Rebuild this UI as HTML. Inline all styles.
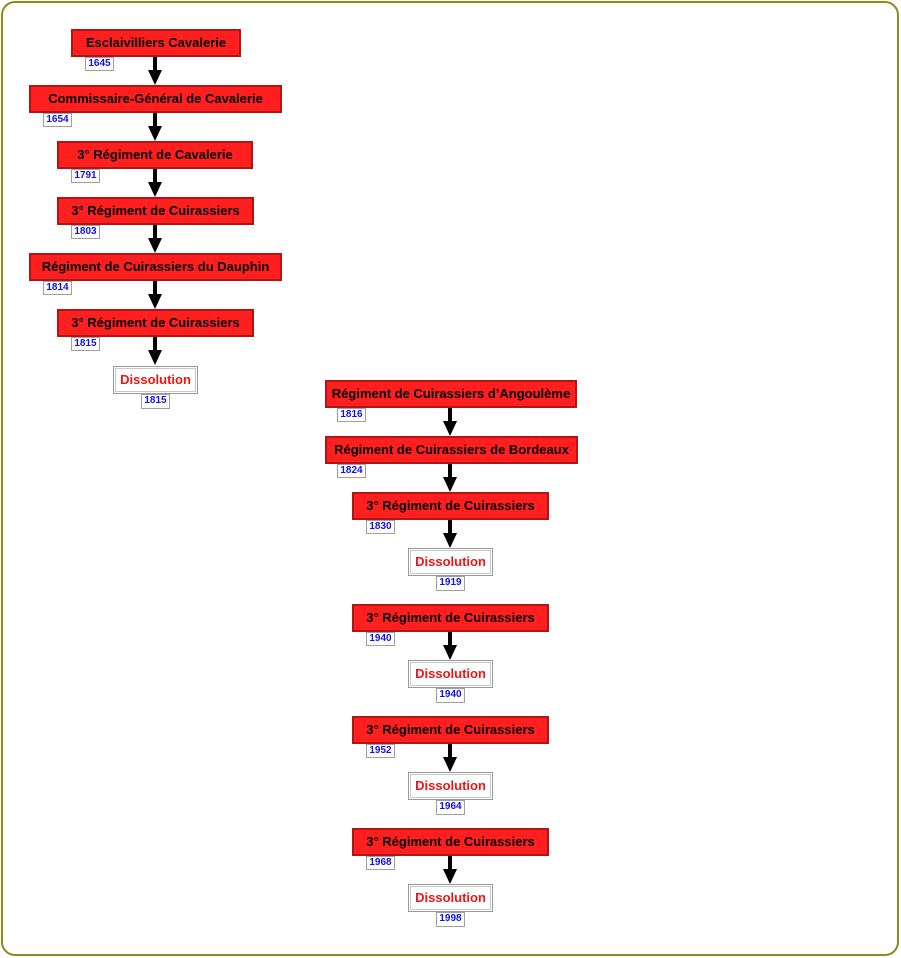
<!DOCTYPE html>
<html>
<head>
<meta charset="utf-8">
<style>
html,body{margin:0;padding:0;background:#fff;}
body{width:901px;height:958px;position:relative;overflow:hidden;font-family:"Liberation Sans",Arial,sans-serif;}
.frame{position:absolute;left:1px;top:1px;width:898px;height:955px;box-sizing:border-box;border:2px solid #8b8b1e;border-radius:14px;}
.b{position:absolute;height:28px;box-sizing:border-box;background:#ff1f1f;border:2px solid #b01616;color:#000;font-weight:bold;font-size:13px;line-height:24px;text-align:center;white-space:nowrap;}
.d{position:absolute;height:28px;box-sizing:border-box;background:#fff;border:1px solid #9a9a9a;box-shadow:inset 0 0 0 1px #fff,inset 0 0 0 2px #c8c8c8;color:#f01414;font-weight:bold;font-size:13px;line-height:26px;text-align:center;white-space:nowrap;}
.y{position:absolute;width:29px;height:14px;box-sizing:border-box;background:#fff;border:1px solid #a0a0a0;color:#1010ee;font-weight:bold;font-size:10px;line-height:12px;text-align:center;}
svg{position:absolute;left:0;top:0;}
</style>
</head>
<body>
<div class="frame"></div>

<!-- Left column -->
<div class="b" style="left:71px;top:29px;width:170px;">Esclaivilliers Cavalerie</div>
<div class="y" style="left:85px;top:57px;">1645</div>

<div class="b" style="left:29px;top:85px;width:253px;">Commissaire-Général de Cavalerie</div>
<div class="y" style="left:43px;top:113px;">1654</div>

<div class="b" style="left:57px;top:141px;width:196px;">3° Régiment de Cavalerie</div>
<div class="y" style="left:71px;top:169px;">1791</div>

<div class="b" style="left:57px;top:197px;width:197px;">3° Régiment de Cuirassiers</div>
<div class="y" style="left:71px;top:225px;">1803</div>

<div class="b" style="left:29px;top:253px;width:253px;">Régiment de Cuirassiers du Dauphin</div>
<div class="y" style="left:43px;top:281px;">1814</div>

<div class="b" style="left:57px;top:309px;width:197px;">3° Régiment de Cuirassiers</div>
<div class="y" style="left:71px;top:337px;">1815</div>

<div class="d" style="left:113px;top:366px;width:85px;">Dissolution</div>
<div class="y" style="left:141px;top:394px;height:15px;">1815</div>

<!-- Right column -->
<div class="b" style="left:325px;top:380px;width:252px;">Régiment de Cuirassiers d’Angoulème</div>
<div class="y" style="left:337px;top:408px;">1816</div>

<div class="b" style="left:325px;top:436px;width:253px;">Régiment de Cuirassiers de Bordeaux</div>
<div class="y" style="left:337px;top:464px;">1824</div>

<div class="b" style="left:352px;top:492px;width:197px;">3° Régiment de Cuirassiers</div>
<div class="y" style="left:366px;top:520px;">1830</div>

<div class="d" style="left:408px;top:548px;width:85px;">Dissolution</div>
<div class="y" style="left:436px;top:576px;height:15px;">1919</div>

<div class="b" style="left:352px;top:604px;width:197px;">3° Régiment de Cuirassiers</div>
<div class="y" style="left:366px;top:632px;">1940</div>

<div class="d" style="left:408px;top:660px;width:85px;">Dissolution</div>
<div class="y" style="left:436px;top:688px;height:15px;">1940</div>

<div class="b" style="left:352px;top:716px;width:197px;">3° Régiment de Cuirassiers</div>
<div class="y" style="left:366px;top:744px;">1952</div>

<div class="d" style="left:408px;top:772px;width:85px;">Dissolution</div>
<div class="y" style="left:436px;top:800px;height:15px;">1964</div>

<div class="b" style="left:352px;top:828px;width:197px;">3° Régiment de Cuirassiers</div>
<div class="y" style="left:366px;top:856px;">1968</div>

<div class="d" style="left:408px;top:884px;width:85px;">Dissolution</div>
<div class="y" style="left:436px;top:912px;height:15px;">1998</div>

<svg width="901" height="958" viewBox="0 0 901 958">
  <defs>
    <g id="arr">
      <rect x="-2" y="0" width="4" height="15" fill="#000"/>
      <polygon points="-7,13 7,13 0,28" fill="#000"/>
    </g>
  </defs>
  <use href="#arr" x="155" y="57"/>
  <use href="#arr" x="155" y="113"/>
  <use href="#arr" x="155" y="169"/>
  <use href="#arr" x="155" y="225"/>
  <use href="#arr" x="155" y="281"/>
  <use href="#arr" x="155" y="337"/>

  <use href="#arr" x="450" y="408"/>
  <use href="#arr" x="450" y="464"/>
  <use href="#arr" x="450" y="520"/>
  <use href="#arr" x="450" y="632"/>
  <use href="#arr" x="450" y="744"/>
  <use href="#arr" x="450" y="856"/>
</svg>
</body>
</html>
